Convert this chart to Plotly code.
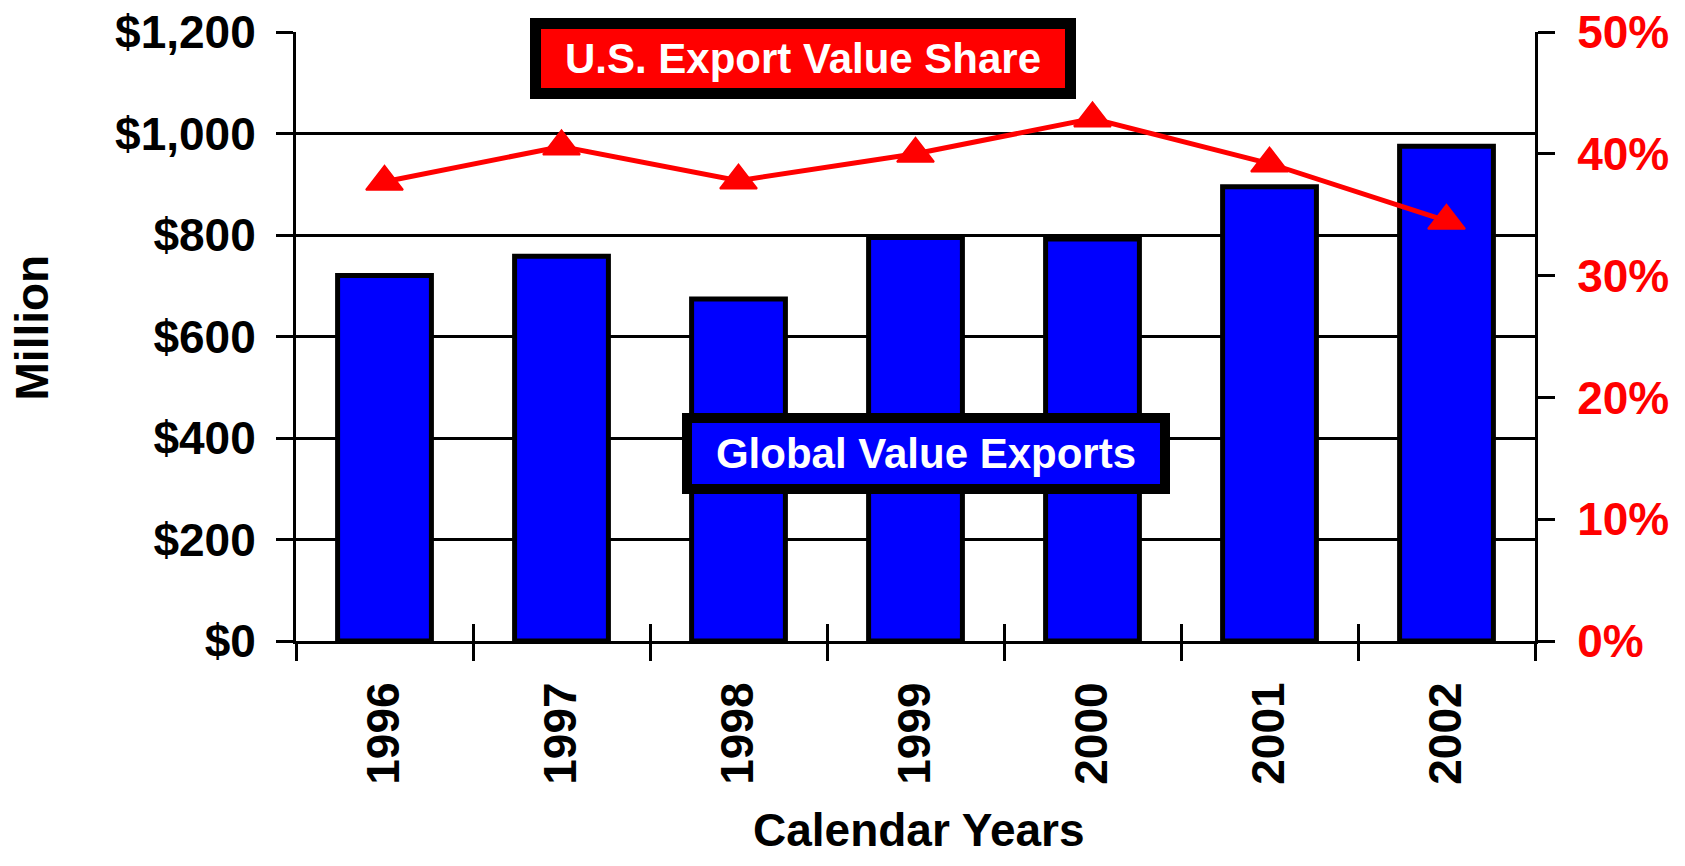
"""Global value exports vs U.S. export value share."""

import plotly.graph_objects as go

years = ["1996", "1997", "1998", "1999", "2000", "2001", "2002"]
global_exports = [720, 758, 674, 795, 792, 895, 975]  # $ million
us_share = [37.7, 40.6, 37.8, 40.0, 42.9, 39.2, 34.5]  # %

_FAMILY = "Liberation Sans, Arial, sans-serif"
_FONT = dict(family=_FAMILY, size=46, color="black", weight="bold")
_AX = dict(linecolor="black", linewidth=3, tickcolor="black", tickwidth=3,
           ticklen=17, zeroline=False, automargin=False)

fig = go.Figure()
fig.add_trace(go.Bar(
    x=years, y=global_exports, width=0.53,
    marker=dict(color="#0000FF", line=dict(color="black", width=5)),
))
fig.add_trace(go.Scatter(
    x=years, y=us_share, xaxis="x2", yaxis="y2", mode="lines+markers",
    line=dict(color="#FF0000", width=5),
    marker=dict(symbol="triangle-up", size=32, color="#FF0000",
                line=dict(color="#FF0000", width=2)),
))

_ANN = dict(xref="paper", yref="paper", xanchor="center", yanchor="middle",
            showarrow=False)

fig.update_layout(
    width=1685, height=866,
    margin=dict(l=296, r=150, t=32, b=225),
    plot_bgcolor="white", paper_bgcolor="white",
    font=_FONT, showlegend=False,
    xaxis=dict(type="category", range=[-0.5, 6.5], showline=True, ticks="outside",
               tickson="boundaries", tickangle=-90, showgrid=False,
               ticklabelstandoff=20, tickfont=_FONT, **_AX),
    xaxis2=dict(type="category", range=[-0.5, 6.5], overlaying="x", anchor="y",
                side="bottom", ticks="inside", tickson="boundaries",
                showticklabels=False, showgrid=False, showline=False, **_AX),
    yaxis=dict(range=[0, 1200], dtick=200, tickprefix="$", tickformat=",d",
               showgrid=True, gridcolor="black", gridwidth=3, showline=True,
               ticks="outside", ticklabelstandoff=11, tickfont=_FONT, **_AX),
    yaxis2=dict(range=[0, 50], dtick=10, ticksuffix="%", overlaying="y", side="right",
                anchor="x", showgrid=False, showline=True, ticks="outside",
                ticklabelstandoff=13, tickfont=dict(_FONT, color="#FF0000"), **_AX),
    yaxis3=dict(range=[0, 50], dtick=10, overlaying="y", side="right", anchor="x",
                showgrid=False, showline=False, ticks="inside",
                showticklabels=False, **_AX),
    annotations=[
        dict(text="U.S. Export Value Share", x=0.4092, y=0.9562,
             font=dict(_FONT, size=42, color="white"),
             bgcolor="#FF0000", bordercolor="black", borderwidth=11, borderpad=1,
             width=522, height=57, **_ANN),
        dict(text="Global Value Exports", x=0.5085, y=0.3076,
             font=dict(_FONT, size=42, color="white"),
             bgcolor="#0000FF", bordercolor="black", borderwidth=10, borderpad=2,
             width=464, height=57, **_ANN),
        dict(text="Million", x=-0.2123, y=0.5148, textangle=-90, font=_FONT, **_ANN),
        dict(text="Calendar Years", x=0.5028, y=-0.3103, font=_FONT, **_ANN),
    ],
)

fig.write_html("out.html", config=dict(displayModeBar=False),
               post_script="document.body.style.margin='0';")
